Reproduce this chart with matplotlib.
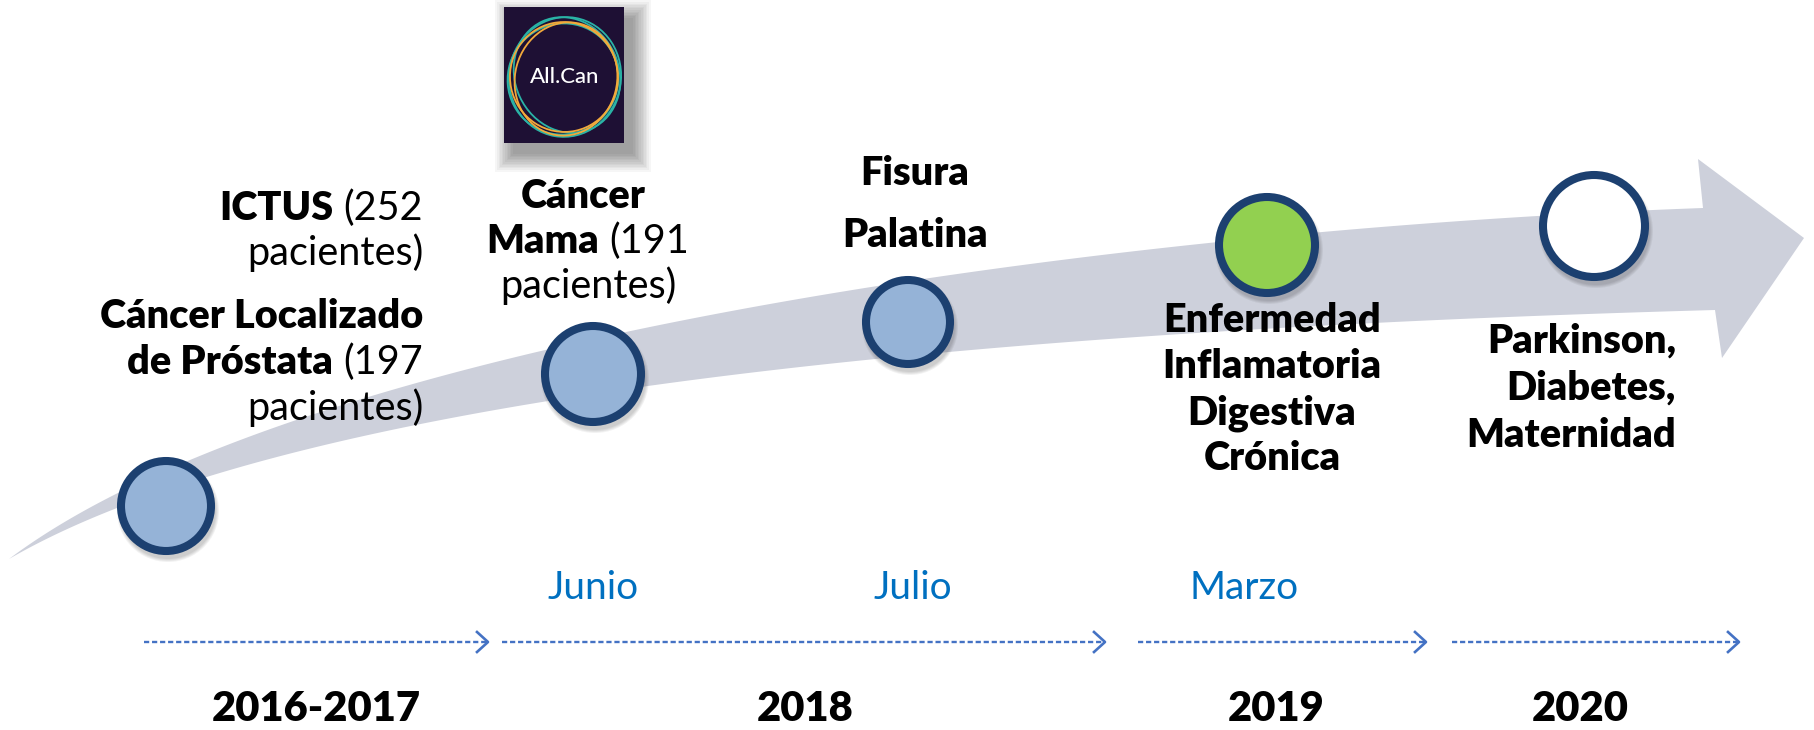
import numpy as np
import matplotlib
matplotlib.use('Agg')
import matplotlib.pyplot as plt
from matplotlib.patches import Circle, Ellipse, Polygon, Rectangle

FONT = ['Lato', 'DejaVu Sans']
plt.rcParams['font.family'] = FONT

# ---- data ----
periods = ['2016-2017', '2018', '2019', '2020']
months = ['Junio', 'Julio', 'Marzo']
milestone_fill = ['#95B3D7', '#95B3D7', '#95B3D7', '#92D050', '#FFFFFF']

ictus = [[('ICTUS', 'heavy'), ('(252', 'normal')], [('pacientes)', 'normal')]]
prostata = [[('Cáncer Localizado', 'heavy')],
            [('de Próstata', 'heavy'), ('(197', 'normal')],
            [('pacientes)', 'normal')]]
mama = [[('Cáncer', 'heavy'), ('', 'normal')],
        [('Mama', 'heavy'), ('(191', 'normal')],
        [('pacientes)', 'normal')]]
fisura = [[('Fisura', 'heavy')], [('Palatina', 'heavy')]]
eii = [[('Enfermedad', 'heavy')], [('Inflamatoria', 'heavy')],
       [('Digestiva', 'heavy')], [('Crónica', 'heavy')]]
otros = [[('Parkinson,', 'heavy')], [('Diabetes,', 'heavy')], [('Maternidad', 'heavy')]]

# ---- layout (pixel space) ----
W, H = 1814, 730
circle_xy = [(166, 506), (593, 374), (908, 322), (1267, 245), (1594, 226)]
circle_r = [49, 52, 46, 52, 55]
period_x = [316, 805, 1276, 1580]
month_x = [593, 913, 1244]
segments = [(144, 488), (502, 1105), (1138, 1426), (1452, 1739)]
blocks = [  # (lines, x, align, baselines)
    (ictus, 423, 'right', [220, 265]),
    (prostata, 423, 'right', [328, 374, 420]),
    (mama, 588, 'center', [208, 253, 298]),
    (fisura, 915, 'center', [185, 247]),
    (eii, 1272, 'center', [332, 378, 424, 470]),
    (otros, 1676, 'right', [353, 400, 447]),
]
BODY = 28.5

fig = plt.figure(figsize=(W / 100, H / 100), dpi=100)
ax = fig.add_axes([0, 0, 1, 1])
ax.set_xlim(0, W)
ax.set_ylim(H, 0)
ax.axis('off')
renderer = fig.canvas.get_renderer()


def bezier(p, n=200):
    p = np.asarray(p, float)
    t = np.linspace(0, 1, n)[:, None]
    return ((1 - t) ** 3 * p[0] + 3 * (1 - t) ** 2 * t * p[1]
            + 3 * (1 - t) * t ** 2 * p[2] + t ** 3 * p[3])


# big curved arrow
upper = bezier([(9, 559), (300, 340), (1100, 230), (1703, 208)])
lower = bezier([(9, 559), (300, 390), (1000, 330), (1715, 310)])
head = np.array([(1698, 159), (1804, 238), (1722, 358)])
outline = np.vstack([upper, head, lower[::-1]])
ax.add_patch(Polygon(outline, closed=True, fc='#CDD0DB', ec='none', zorder=1))

# milestones
for (cx, cy), r, fc in zip(circle_xy, circle_r, milestone_fill):
    for k in range(4):
        ax.add_patch(Circle((cx + 2, cy + 5), r + 2 - k, fc='black', ec='none',
                            alpha=0.05, zorder=2))
    ax.add_patch(Circle((cx, cy), r - 4, fc=fc, ec='#1C4070', lw=5.8, zorder=3))

# All.Can logo
lx, ly, lw_, lh = 504, 7, 120, 136
for k in range(12):
    ax.add_patch(Rectangle((lx + 9 - k * 1.6, ly + 11 - k * 1.6), lw_ + k * 3.2, lh + k * 3.2,
                           fc='black', ec='none', alpha=0.035, zorder=2))
ax.add_patch(Rectangle((lx, ly), lw_, lh, fc='#1E1034', ec='none', zorder=3))
rings = [(0, 0, 112, 120, 10, '#2AB3A6'), (2, -2, 104, 118, -25, '#2AB3A6'),
         (-2, 2, 110, 112, 40, '#2AB3A6'), (1, 2, 102, 114, 15, '#F2A93B'),
         (-1, 0, 108, 110, -12, '#F2A93B')]
for dx, dy, ew, eh, ang, col in rings:
    ax.add_patch(Ellipse((565 + dx, 77 + dy), ew, eh, angle=ang, fc='none', ec=col,
                         lw=1.3, zorder=4))
ax.text(565, 77, 'All.Can', color='white', fontsize=16, fontweight='medium',
        ha='center', va='center', zorder=5)


def draw_line(x, y, runs, align, size):
    a = ax.text(0, 0, 'x x', fontsize=size)
    b = ax.text(0, 0, 'xx', fontsize=size)
    gap = a.get_window_extent(renderer).width - b.get_window_extent(renderer).width
    a.remove()
    b.remove()
    items = []
    for s, wt in runs:
        t = ax.text(0, y, s, fontsize=size, fontweight=wt, va='baseline', ha='left',
                    color='black', zorder=6)
        w = t.get_window_extent(renderer).width if s else 0
        items.append((t, w))
    total = sum(w for _, w in items) + gap * (len(items) - 1)
    start = x - total if align == 'right' else x - total / 2
    for t, w in items:
        t.set_x(start)
        start += w + gap


for lines, x, align, bases in blocks:
    for runs, y in zip(lines, bases):
        draw_line(x, y, runs, align, BODY)

# months
for mx, m in zip(month_x, months):
    ax.text(mx, 599, m, color='#0070C0', fontsize=28, ha='center', va='baseline')

# dashed period arrows
for x0, x1 in segments:
    ax.plot([x0, x1 - 2], [642, 642], color='#4472C4', lw=1.7, ls=(0, (2.2, 1.2)),
            solid_capstyle='butt')
    ax.plot([x1 - 11, x1, x1 - 11], [632, 642, 652], color='#4472C4', lw=1.9)

# years
for px, p in zip(period_x, periods):
    ax.text(px, 721, p, fontsize=30, fontweight='heavy', ha='center', va='baseline')

fig.savefig('out.png', dpi=100, facecolor='white')
